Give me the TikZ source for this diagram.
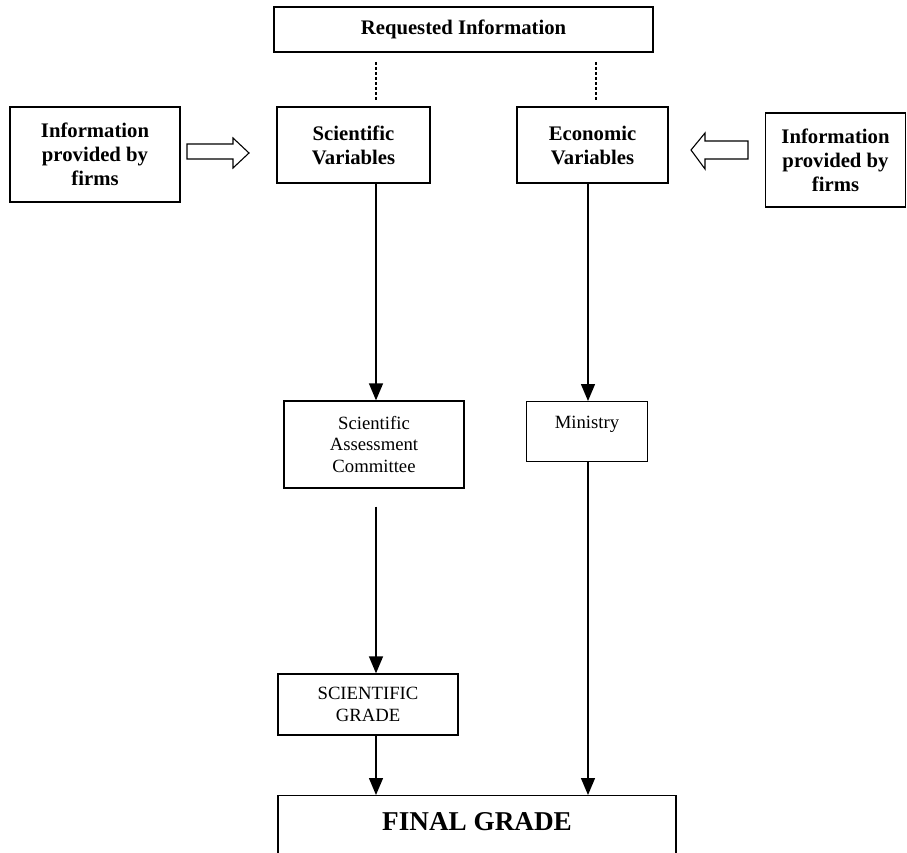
\documentclass[tikz,border=0pt]{standalone}
\usepackage{fontspec}
\setmainfont{Liberation Serif}
\usetikzlibrary{arrows.meta}
\tikzset{
  box/.style={draw, line width=1.3pt, inner sep=0pt, align=center},
  bold/.style={font=\fontsize{20.7}{24}\selectfont\bfseries},
  plain/.style={font=\fontsize{18.7}{21.5}\selectfont},
  flow/.style={line width=1.4pt, -{Triangle[length=17pt,width=14pt]}},
  fat/.style={draw, line width=1.1pt, fill=white, line join=miter},
  dots/.style={line width=2.6pt, dash pattern=on 3pt off 2pt}
}
\begin{document}
\begin{tikzpicture}[x=1pt, y=-1pt]
\useasboundingbox (0,0) rectangle (907,853);
\node[box, bold, minimum width=379pt, minimum height=45pt] (P_req) at (463.5,29.5) {Requested Information};
\node[box, bold, minimum width=170pt, minimum height=95pt] (P_infoL) at (95,154.5) {Information\\provided by\\firms};
\node[box, bold, minimum width=153pt, minimum height=76pt] (P_sci) at (353.5,145) {Scientific\\Variables};
\node[box, bold, minimum width=151pt, minimum height=76pt] (P_eco) at (592.5,145) {Economic\\Variables};
\node[box, bold, minimum width=140pt, minimum height=94pt] (P_infoR) at (835.5,160) {Information\\provided by\\firms};
\coordinate (D_1a) at (376,62);
\coordinate (D_1b) at (376,101);
\coordinate (D_2a) at (596,62);
\coordinate (D_2b) at (596,101);
\draw[dots] (D_1a) -- (D_1b);
\draw[dots] (D_2a) -- (D_2b);
\draw[fat] (187,144) -- (233,144) -- (233,138) -- (249,153) -- (233,168) -- (233,159) -- (187,159) -- cycle;
\draw[fat] (748,141) -- (705,141) -- (705,133) -- (691,150) -- (705,169) -- (705,159) -- (748,159) -- cycle;
\node[box, plain, minimum width=180pt, minimum height=87pt] (P_sac) at (374,444.5) {Scientific\\Assessment\\Committee};
\node[box, plain, anchor=north, minimum width=121pt, text height=27pt, text depth=33pt] (P_min) at (587,401) {Ministry};
\node[box, plain, minimum width=180pt, minimum height=61pt] (P_sg) at (368,704.5) {SCIENTIFIC\\GRADE};
\node[box, anchor=north, minimum width=398pt, text height=35pt, text depth=50pt,
  font=\fontsize{27.2}{30}\selectfont\bfseries] (P_fin) at (477,795) {FINAL GRADE};
\draw[flow] (P_sci.south -| 376,0) -- (P_sac.north -| 376,0);
\draw[flow] (P_eco.south -| 588,0) -- (P_min.north -| 588,0);
\draw[flow, shorten <=18pt] (P_sac.south -| 376,0) -- (P_sg.north -| 376,0);
\draw[flow] (P_sg.south -| 376,0) -- (P_fin.north -| 376,0);
\draw[flow] (P_min.south -| 588,0) -- (P_fin.north -| 588,0);
\end{tikzpicture}
\end{document}
